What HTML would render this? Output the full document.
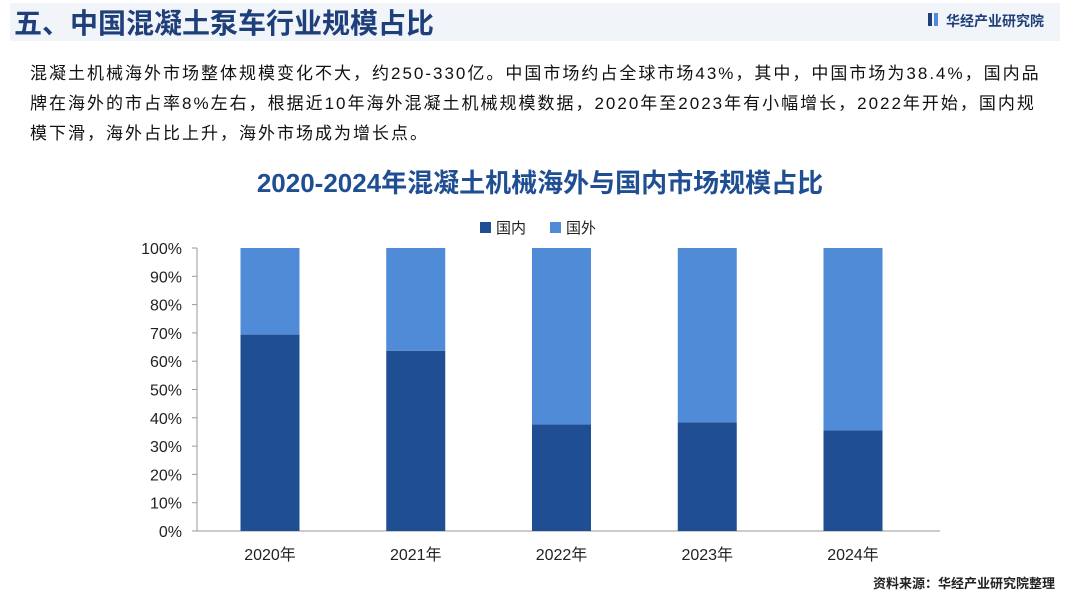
<!DOCTYPE html>
<html><head><meta charset="utf-8">
<style>
body{margin:0;width:1080px;height:598px;background:#fff;overflow:hidden;font-family:"Liberation Sans","Noto Sans CJK SC",sans-serif;position:relative}
.hdr{position:absolute;left:10px;top:3px;width:1050px;height:38px;background:#f1f4f9}
.ttl{position:absolute;left:14px;top:2px;font-size:28px;font-weight:bold;color:#1f3f7a}
.logo{position:absolute;right:36px;top:11px;font-size:14px;font-weight:bold;color:#1f3f7a}
.para{position:absolute;left:30px;top:59px;width:1060px;font-size:17px;letter-spacing:2px;line-height:30px;color:#111;white-space:nowrap}
</style></head><body>
<div class="hdr"></div>
<div class="ttl">五、中国混凝土泵车行业规模占比</div>
<div class="logo"><span style="display:inline-block;width:4px;height:13px;background:#1f3f7a;margin-right:2px"></span><span style="display:inline-block;width:4px;height:13px;background:#4f8bd6;margin-right:8px"></span>华经产业研究院</div>
<div class="para">混凝土机械海外市场整体规模变化不大，约250-330亿。中国市场约占全球市场43%，其中，中国市场为38.4%，国内品<br>牌在海外的市占率8%左右，根据近10年海外混凝土机械规模数据，2020年至2023年有小幅增长，2022年开始，国内规<br>模下滑，海外占比上升，海外市场成为增长点。</div>
<svg id="chart" width="1080" height="598" style="position:absolute;left:0;top:0">
<text x="540" y="192" text-anchor="middle" font-size="26" font-weight="bold" fill="#1f4e92">2020-2024年混凝土机械海外与国内市场规模占比</text>
<g>
<rect x="480" y="222" width="11" height="11" fill="#1f4e92"/>
<text x="496" y="233" font-size="15" fill="#222">国内</text>
<rect x="550" y="222" width="11" height="11" fill="#4f8bd6"/>
<text x="566" y="233" font-size="15" fill="#222">国外</text>
</g>
<g id="plot"></g>
<text x="1055" y="588" text-anchor="end" font-size="13" font-weight="bold" fill="#222">资料来源：华经产业研究院整理</text>
</svg>
<script>
const categories=["2020年","2021年","2022年","2023年","2024年"];
const domestic=[69.4,63.7,37.7,38.4,35.6];
const foreign=[30.6,36.3,62.3,61.6,64.4];
const yTicks=[0,10,20,30,40,50,60,70,80,90,100];
const NS="http://www.w3.org/2000/svg";
const g=document.getElementById('plot');
const y0=531,y1=248,xL=197,step=145.75,x0=270,bw=59;
const y=v=>y0-(v/100)*(y0-y1);
const x=i=>x0+i*step;
function mk(t,a){const e=document.createElementNS(NS,t);for(const k in a)e.setAttribute(k,a[k]);g.appendChild(e);return e;}
let ax=mk('line',{x1:xL,y1:y1,x2:xL,y2:y0,stroke:'#999'});


let bx=mk('line',{x1:xL,y1:y0,x2:940,y2:y0,stroke:'#999'});


yTicks.forEach(v=>{
 let t=mk('line',{x1:xL-5,y1:y(v),x2:xL,y2:y(v),stroke:'#999'});
 
 
 let l=mk('text',{x:182,y:y(v)+6,'text-anchor':'end','font-size':16,fill:'#222'});l.textContent=v+'%';
 
 
});
categories.forEach((c,i)=>{
 let d=mk('rect',{x:x(i)-bw/2,y:y(domestic[i]),width:bw,height:y0-y(domestic[i]),fill:'#1f4e92'});
 
 
 let f=mk('rect',{x:x(i)-bw/2,y:y(domestic[i]+foreign[i]),width:bw,height:y(domestic[i])-y(domestic[i]+foreign[i]),fill:'#4f8bd6'});
 
 
 let l=mk('text',{x:x(i),y:560,'text-anchor':'middle','font-size':16,fill:'#222'});l.textContent=c;
 
 
});
</script>
</body></html>
